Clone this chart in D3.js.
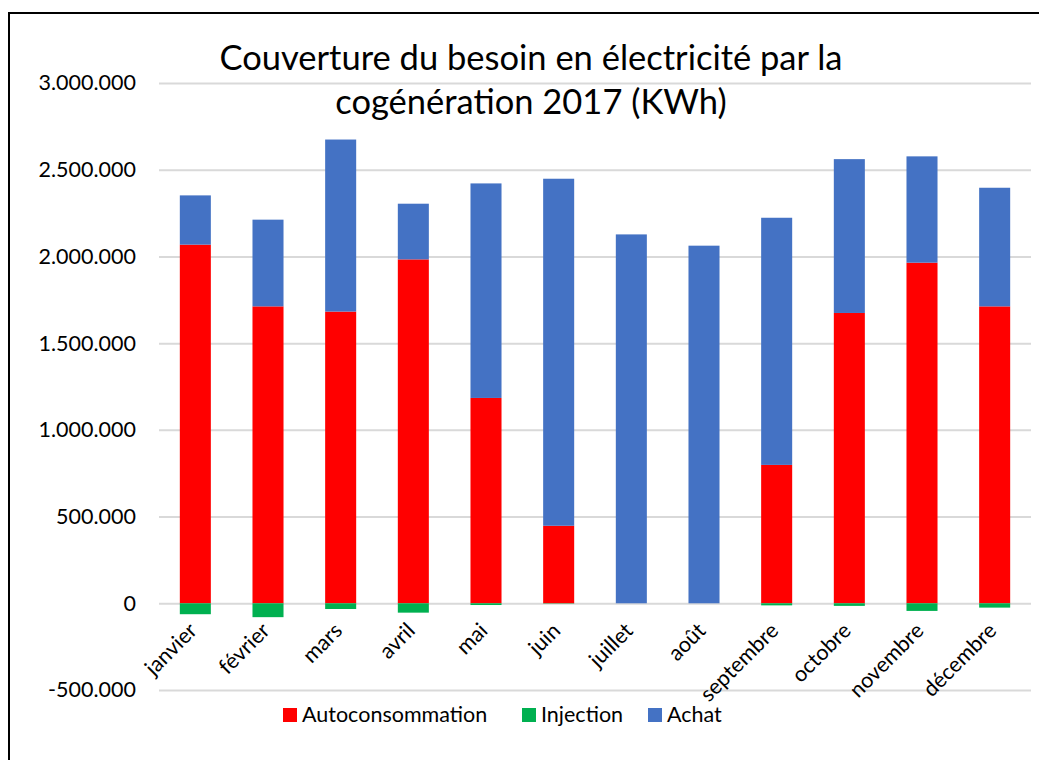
<!DOCTYPE html>
<html>
<head>
<meta charset="utf-8">
<script src="https://cdn.jsdelivr.net/npm/d3@7"></script>
<style>
  body { margin: 0; background: #fff; }
  svg { display: block; font-family: Lato, "Open Sans", sans-serif; }
</style>
</head>
<body>
<svg id="chart" width="1039" height="760"></svg>
<script>
var months = ["janvier", "février", "mars", "avril", "mai", "juin", "juillet", "août", "septembre", "octobre", "novembre", "décembre"];
var autoconsommation = [2068000, 1712000, 1682000, 1983000, 1184000, 447000, 0, 0, 798000, 1674000, 1964000, 1712000];
var injection = [-63000, -80000, -33000, -54000, -10000, -2000, 0, 0, -12000, -15000, -44000, -25000];
var achat = [284000, 500000, 992000, 321000, 1237000, 2001000, 2127000, 2062000, 1425000, 887000, 613000, 684000];
var yTicks = [-500000, 0, 500000, 1000000, 1500000, 2000000, 2500000, 3000000];
var seriesNames = ["Autoconsommation", "Injection", "Achat"];
var colors = { "Autoconsommation": "#ff0000", "Injection": "#00b050", "Achat": "#4472c4" };

var svg = d3.select("#chart"),
  width = +svg.attr("width"),
  height = +svg.attr("height");

// rows for the stack
var rows = months.map(function (m, i) {
  return { month: m, "Autoconsommation": autoconsommation[i], "Injection": injection[i], "Achat": achat[i] };
});

var fr = d3.formatLocale({ decimal: ",", thousands: ".", grouping: [3], currency: ["", " €"], minus: "-" });
var fmt = fr.format(",d");

// frame
svg.append("rect")
  .attr("x", 9).attr("y", 13)
  .attr("width", width + 20).attr("height", height + 20)
  .attr("fill", "none").attr("stroke", "#000").attr("stroke-width", 2);

var x = d3.scaleBand()
  .domain(months)
  .range([159, 1031])
  .paddingInner(0.573)
  .paddingOuter(0.2865);

var y = d3.scaleLinear()
  .domain([-500000, 3000000])
  .range([690, 83]);

// gridlines + y labels
var yAxis = svg.append("g")
  .attr("transform", "translate(159,0)")
  .call(d3.axisLeft(y).tickValues(yTicks).tickSize(-(1031 - 159)).tickPadding(23).tickFormat(fmt));
yAxis.select(".domain").remove();
yAxis.selectAll(".tick line").attr("stroke", "#d9d9d9").attr("stroke-width", 2);
yAxis.selectAll(".tick text")
  .attr("fill", "#000")
  .style("font-size", "21.5px")
  .style("font-family", "Lato, 'Open Sans', sans-serif");

var stack = d3.stack().keys(seriesNames).offset(d3.stackOffsetDiverging);
var layers = stack(rows);

svg.append("g")
  .selectAll("g")
  .data(layers)
  .enter().append("g")
  .attr("fill", function (d) { return colors[d.key]; })
  .selectAll("rect")
  .data(function (d) { return d; })
  .enter().append("rect")
  .attr("x", function (d) { return x(d.data.month); })
  .attr("width", x.bandwidth())
  .attr("y", function (d) { return y(Math.max(d[0], d[1])); })
  .attr("height", function (d) { return Math.abs(y(d[0]) - y(d[1])); });

// x labels, rotated
svg.append("g")
  .selectAll("text")
  .data(months)
  .enter().append("text")
  .attr("text-anchor", "end")
  .attr("transform", function (d) {
    var cx = x(d) + x.bandwidth() / 2 + 3;
    return "translate(" + cx + ",632) rotate(-45)";
  })
  .style("font-size", "21.5px")
  .attr("fill", "#000")
  .text(function (d) { return d; });

// title
var title = svg.append("text")
  .attr("text-anchor", "middle")
  .style("font-size", "34.5px")
  .attr("fill", "#000");
title.append("tspan").attr("x", 531).attr("y", 70).text("Couverture du besoin en électricité par la");
title.append("tspan").attr("x", 531).attr("y", 114).text("cogénération 2017 (KWh)");

// legend
var legendPos = [283, 522, 648];
var legend = svg.append("g")
  .selectAll("g")
  .data(seriesNames)
  .enter().append("g")
  .attr("transform", function (d, i) { return "translate(" + legendPos[i] + ",708)"; });
legend.append("rect")
  .attr("width", 14).attr("height", 14)
  .attr("fill", function (d) { return colors[d]; });
legend.append("text")
  .attr("x", 19).attr("y", 14)
  .style("font-size", "21.5px")
  .attr("fill", "#000")
  .text(function (d) { return d; });
</script>
</body>
</html>
